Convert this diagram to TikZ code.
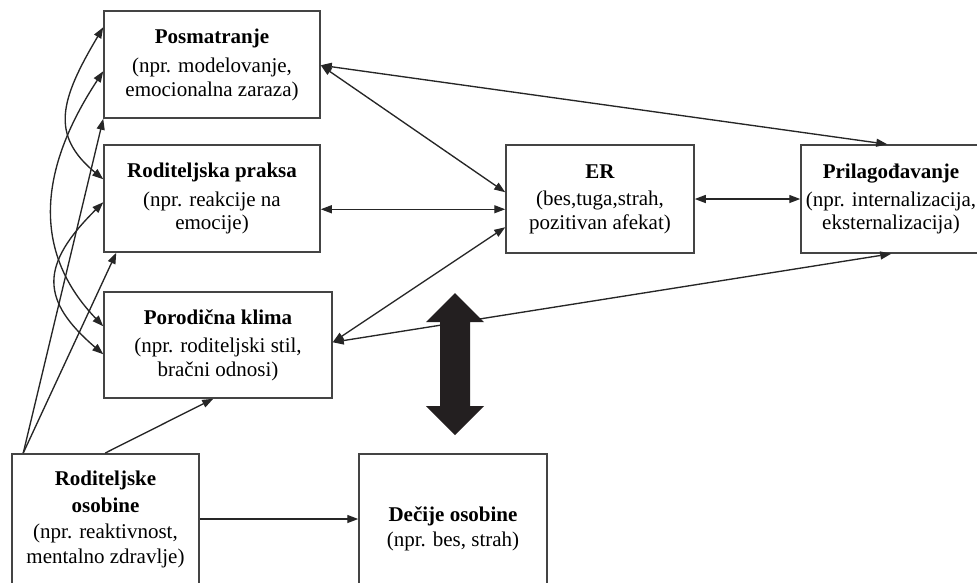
\documentclass[tikz,border=0pt]{standalone}
\usepackage{fontspec}
\setmainfont{Liberation Serif}
\usetikzlibrary{arrows.meta,calc}
\definecolor{lncol}{HTML}{262626}
\definecolor{bxcol}{HTML}{444444}
\definecolor{bigcol}{HTML}{231F20}
\begin{document}
\begin{tikzpicture}[x=1pt,y=-1pt,
  tbox/.style={draw=bxcol, line width=1.5pt, fill=white, inner sep=0pt, align=center,
               font=\fontsize{21}{23.5}\selectfont},
  conn/.style={draw=lncol, line width=1.35pt},
  onehead/.style={-{Triangle[length=11pt,width=8pt]}},
  twohead/.style={{Triangle[length=11pt,width=8pt]}-{Triangle[length=11pt,width=8pt]}}]
\useasboundingbox (0,0) rectangle (977,582);

% boxes
\node[tbox, minimum width=216pt, minimum height=107pt] (pos) at (212,64.5)
  {\textbf{Posmatranje}\\[6pt](npr. modelovanje,\\emocionalna zaraza)};
\node[tbox, minimum width=216pt, minimum height=107pt] (prak) at (212,198.5)
  {\textbf{Roditeljska praksa}\\[5pt](npr. reakcije na\\emocije)};
\node[tbox, minimum width=228pt, minimum height=106pt] (klima) at (218,345)
  {\textbf{Porodična klima}\\[5pt](npr. roditeljski stil,\\bračni odnosi)};
\node[tbox, minimum width=188pt, minimum height=108pt] (er) at (600,199)
  {\textbf{ER}\\[4pt](bes,tuga,strah,\\pozitivan afekat)};
\node[tbox, minimum width=180pt, minimum height=108pt] (pril) at (891,199)
  {\textbf{Prilagođavanje}\\[4pt](npr. internalizacija,\\eksternalizacija)};
\node[tbox, minimum width=187pt, minimum height=150pt, anchor=north] (rodos) at (105.5,453)
  {\textbf{Roditeljske}\\[3pt]\textbf{osobine}\\[3pt](npr. reaktivnost,\\[1pt]mentalno zdravlje)\\[0pt]\mbox{}};
\node[tbox, minimum width=188pt, minimum height=150pt, anchor=north] (dec) at (453,453)
  {\textbf{Dečije osobine}\\[2pt](npr. bes, strah)};

% connectors to the right
\draw[conn, twohead] ($(pos.north east)+(0,55)$) -- ($(pril.north west)+(87,0)$);
\draw[conn, twohead] ($(pos.north east)+(0,55)$) -- ($(er.north west)+(0,48)$);
\draw[conn, twohead] ($(prak.north east)+(0,65)$) -- ($(er.north west)+(0,65)$);
\draw[conn, twohead] ($(klima.north east)+(0,51)$) -- ($(er.north west)+(0,83)$);
\draw[conn, twohead] ($(klima.north east)+(0,51)$) -- ($(pril.south west)+(91,0)$);
\draw[conn, twohead] (er.east) -- (pril.west);

% from parent characteristics
\draw[conn, onehead] ($(rodos.north west)+(12,0)$) -- (pos.south west);
\draw[conn, onehead] ($(rodos.north west)+(12,0)$) -- ($(prak.south west)+(13,0)$);
\draw[conn, onehead] ($(rodos.north west)+(94,0)$) -- ($(klima.south west)+(110,0)$);
\draw[conn, onehead] ($(rodos.north east)+(0,66)$) -- ($(dec.north west)+(0,66)$);

% curved links on the left
\draw[conn, twohead] ($(pos.north west)+(0,17)$) .. controls (60,100) and (50,135) .. ($(prak.north west)+(0,35)$);
\draw[conn, twohead] ($(pos.north west)+(0,61)$) .. controls (35,175) and (35,255) .. ($(klima.north west)+(0,35)$);
\draw[conn, twohead] ($(prak.north west)+(0,58)$) .. controls (40,265) and (40,300) .. ($(klima.north west)+(0,63)$);

% big double arrow
\fill[bigcol] (455,293) -- (484,322) -- (470,322) -- (470,406) -- (484,406) -- (455,435)
  -- (426,406) -- (440,406) -- (440,322) -- (426,322) -- cycle;
\end{tikzpicture}
\end{document}
